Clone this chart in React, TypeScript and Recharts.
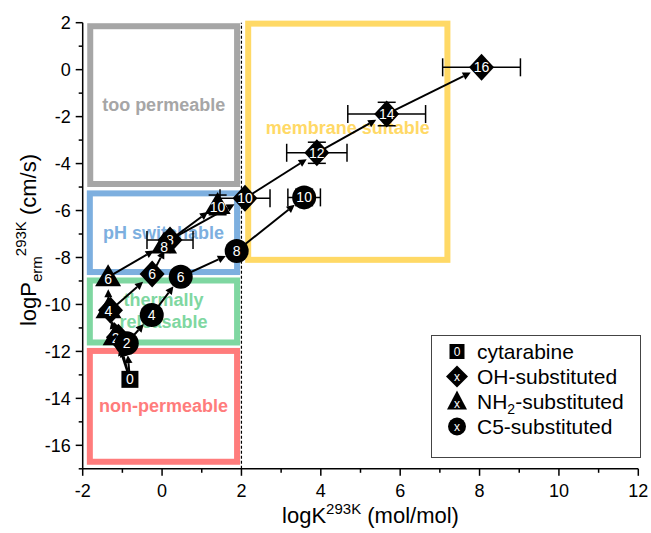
import React from 'react';
import {
  ScatterChart,
  Scatter,
  XAxis,
  YAxis,
  ErrorBar,
  ReferenceArea,
  ReferenceLine,
  Legend,
} from 'recharts';

const FONT = '"Liberation Sans", Arial, Helvetica, sans-serif';

// axis ticks (even values get a label, odd ones are minor ticks)
const xTicks = [-2, -1, 0, 1, 2, 3, 4, 5, 6, 7, 8, 9, 10, 11, 12];
const yTicks = [-17, -16, -15, -14, -13, -12, -11, -10, -9, -8, -7, -6, -5, -4, -3, -2, -1, 0, 1, 2];

// cytarabine (n = 0)
const cytN = [0];
const cytX = [-0.81];
const cytY = [-13.19];

// OH-substituted
const ohN = [2, 4, 6, 8, 10, 12, 14, 16];
const ohX = [-1.1, -1.3, -0.25, 0.2, 2.09, 3.9, 5.66, 8.05];
const ohY = [-11.4, -10.25, -8.7, -7.25, -5.48, -3.54, -1.89, 0.1];
const ohXErr = [0, 0, 0, 0.58, 0.63, 0.76, 0.98, 0.98];
const ohYErr = [0, 0, 0, 0, 0, 0.45, 0.5, 0];

// NH2-substituted
const nhN = [2, 4, 6, 8, 10];
const nhX = [-1.17, -1.35, -1.36, 0.05, 1.4];
const nhY = [-11.35, -10.2, -8.84, -7.45, -5.76];
const nhYErr = [0, 0, 0, 0, 0.42];

// C5-substituted
const c5N = [2, 4, 6, 8, 10];
const c5X = [-0.89, -0.26, 0.47, 1.88, 3.58];
const c5Y = [-11.65, -10.45, -8.82, -7.72, -5.44];
const c5XErr = [0, 0, 0, 0, 0.41];
const c5YErr = [0, 0, 0, 0, 0.35];

const seriesNames = ['cytarabine', 'OH-substituted', 'NH2-substituted', 'C5-substituted'];

// regions
const regionNames = ['too permeable', 'pH switchable', 'thermally\nreleasable', 'non-permeable', 'membrane suitable'];
const regionX1 = [-1.81, -1.82, -1.82, -1.82, 2.17];
const regionX2 = [1.89, 1.89, 1.89, 1.89, 7.19];
const regionY1 = [-4.87, -8.62, -11.62, -16.7, -8.1];
const regionY2 = [1.85, -5.27, -8.98, -11.98, 1.96];
const regionColors = ['#A6A6A6', '#7DAFDF', '#7FD7A1', '#FF7C7C', '#FFD966'];
const regionTextShift = [0, 0, 0, 0, -14];

// arrows between derivatives (from -> to)
const arrows: [string, string][] = [
  ['cyt0', 'c52'], ['c52', 'c54'], ['c54', 'c56'], ['c56', 'c58'], ['c58', 'c510'],
  ['cyt0', 'nh2'], ['nh2', 'nh4'], ['nh4', 'nh6'], ['nh6', 'nh8'], ['nh8', 'nh10'],
  ['cyt0', 'oh2'], ['oh2', 'oh4'], ['oh4', 'oh6'], ['oh6', 'oh8'], ['oh8', 'oh10'],
  ['oh10', 'oh12'], ['oh12', 'oh14'], ['oh14', 'oh16'],
];

const cytData = cytN.map((n, i) => ({ n, x: cytX[i], y: cytY[i] }));
const ohData = ohN.map((n, i) => ({ n, x: ohX[i], y: ohY[i], ex: ohXErr[i], ey: ohYErr[i] }));
const nhData = nhN.map((n, i) => ({ n, x: nhX[i], y: nhY[i], ey: nhYErr[i] }));
const c5Data = c5N.map((n, i) => ({ n, x: c5X[i], y: c5Y[i], ex: c5XErr[i], ey: c5YErr[i] }));

const pts: Record<string, { x: number; y: number }> = {};
cytData.forEach((d) => (pts['cyt' + d.n] = d));
ohData.forEach((d) => (pts['oh' + d.n] = d));
nhData.forEach((d) => (pts['nh' + d.n] = d));
c5Data.forEach((d) => (pts['c5' + d.n] = d));

const numText = (cx: number, cy: number, n: any, dy = 0) => (
  <text x={cx} y={cy + dy} textAnchor="middle" dominantBaseline="central" fill="#fff" fontSize={14} fontFamily={FONT}>
    {n}
  </text>
);

const SquareMark = ({ cx, cy, payload }: any) => (
  <g>
    <rect x={cx - 8.5} y={cy - 8.5} width={17} height={17} fill="#000" />
    {numText(cx, cy, payload.n)}
  </g>
);
const DiamondMark = ({ cx, cy, payload }: any) => (
  <g>
    <polygon points={`${cx},${cy - 13.5} ${cx + 12.5},${cy} ${cx},${cy + 13.5} ${cx - 12.5},${cy}`} fill="#000" />
    {numText(cx, cy, payload.n)}
  </g>
);
const TriangleMark = ({ cx, cy, payload }: any) => (
  <g>
    <polygon points={`${cx},${cy - 13} ${cx + 13},${cy + 9} ${cx - 13},${cy + 9}`} fill="#000" />
    {numText(cx, cy, payload.n, 2)}
  </g>
);
const CircleMark = ({ cx, cy, payload }: any) => (
  <g>
    <circle cx={cx} cy={cy} r={12} fill="#000" />
    {numText(cx, cy, payload.n)}
  </g>
);

const Arrow = ({ x1, y1, x2, y2 }: any) => {
  const dx = x2 - x1;
  const dy = y2 - y1;
  const len = Math.hypot(dx, dy);
  if (!len) return null;
  const ux = dx / len;
  const uy = dy / len;
  const tx = x2 - ux * 12;
  const ty = y2 - uy * 12;
  const bx = tx - ux * 8;
  const by = ty - uy * 8;
  return (
    <g>
      <line x1={x1} y1={y1} x2={bx} y2={by} stroke="#000" strokeWidth={2} />
      <polygon points={`${tx},${ty} ${bx - uy * 4},${by + ux * 4} ${bx + uy * 4},${by - ux * 4}`} fill="#000" />
    </g>
  );
};

const regionShape = (i: number) => ({ x, y, width, height }: any) => {
  const cx = x + width / 2;
  const cy = y + height / 2 + regionTextShift[i];
  const lines = regionNames[i].split('\n');
  return (
    <g>
      <rect x={x} y={y} width={width} height={height} fill="none" stroke={regionColors[i]} strokeWidth={6} />
      <text textAnchor="middle" fill={regionColors[i]} fontSize={18} fontWeight="bold" fontFamily={FONT}>
        {lines.map((l, k) => (
          <tspan key={k} x={cx} y={cy + 6 + (k - (lines.length - 1) / 2) * 22}>
            {l}
          </tspan>
        ))}
      </text>
    </g>
  );
};

const XTick = ({ x, y, payload }: any) => {
  const major = payload.value % 2 === 0;
  return (
    <g>
      <line x1={x} x2={x} y1={y} y2={y + (major ? 7 : 4)} stroke="#000" strokeWidth={1.5} />
      {major && (
        <text x={x} y={y + 28} textAnchor="middle" fontSize={18} fontFamily={FONT} fill="#000">
          {payload.value}
        </text>
      )}
    </g>
  );
};

const YTick = ({ x, y, payload }: any) => {
  const major = payload.value % 2 === 0;
  return (
    <g>
      <line x1={x} x2={x - (major ? 7 : 4)} y1={y} y2={y} stroke="#000" strokeWidth={1.5} />
      {major && (
        <text x={x - 12} y={y + 6.5} textAnchor="end" fontSize={18} fontFamily={FONT} fill="#000">
          {payload.value}
        </text>
      )}
    </g>
  );
};

const XTitle = ({ viewBox }: any) => {
  const cx = viewBox.x + viewBox.width / 2 + 10;
  return (
    <text x={cx} y={viewBox.y + 54} textAnchor="middle" fontSize={22} fontFamily={FONT} fill="#000">
      logK
      <tspan dy={-9} fontSize={15}>293K</tspan>
      <tspan dy={9}> (mol/mol)</tspan>
    </text>
  );
};

const YTitle = ({ viewBox }: any) => {
  const cx = 36;
  const cy = 240;
  return (
    <text x={cx} y={cy} transform={`rotate(-90, ${cx}, ${cy})`} textAnchor="middle" fontSize={22} fontFamily={FONT} fill="#000">
      logP
      <tspan dy={6} fontSize={15}>erm</tspan>
      <tspan dy={-16} fontSize={15}>293K</tspan>
      <tspan dy={10}> (cm/s)</tspan>
    </text>
  );
};

const legendIcon = (i: number) => {
  const cx = 25;
  const cy = 12.5;
  const label = i === 0 ? '0' : 'x';
  const mark =
    i === 0 ? (
      <rect x={cx - 7.5} y={cy - 7.5} width={15} height={15} fill="#000" />
    ) : i === 1 ? (
      <polygon points={`${cx},${cy - 11} ${cx + 11},${cy} ${cx},${cy + 11} ${cx - 11},${cy}`} fill="#000" />
    ) : i === 2 ? (
      <polygon points={`${cx},${cy - 11} ${cx + 10},${cy + 8} ${cx - 10},${cy + 8}`} fill="#000" />
    ) : (
      <circle cx={cx} cy={cy} r={9} fill="#000" />
    );
  return (
    <g>
      {mark}
      <text x={cx} y={cy + (i === 2 ? 2 : 0)} textAnchor="middle" dominantBaseline="central" fill="#fff" fontSize={12} fontFamily={FONT}>
        {label}
      </text>
    </g>
  );
};

const legendLabel = (name: string) => {
  if (name.startsWith('NH2')) {
    return (
      <span>
        NH<span style={{ fontSize: 14, verticalAlign: '-5px', lineHeight: 0 }}>2</span>
        {name.slice(3)}
      </span>
    );
  }
  return <span>{name}</span>;
};

const renderLegend = () => (
  <div
    style={{
      boxSizing: 'border-box',
      width: 210,
      height: 123,
      border: '1px solid #444',
      background: '#fff',
      fontFamily: FONT,
      fontSize: 21,
      color: '#000',
      paddingTop: 3,
    }}
  >
    {seriesNames.map((name, i) => (
      <div key={name} style={{ display: 'flex', alignItems: 'center', height: 25, whiteSpace: 'nowrap' }}>
        <svg width={45} height={25} style={{ flex: 'none' }}>
          {legendIcon(i)}
        </svg>
        {legendLabel(name)}
      </div>
    ))}
  </div>
);

export default function App() {
  return (
    <div style={{ position: 'absolute', left: 0, top: 0, width: 651, height: 533, background: '#fff' }}>
      <ScatterChart width={651} height={533} margin={{ top: 22.7, right: 12.7, bottom: 0, left: 0 }}>
        <XAxis
          type="number"
          dataKey="x"
          domain={[-2, 12]}
          ticks={xTicks}
          interval={0}
          height={64.2}
          tickSize={0}
          tickMargin={0}
          tickLine={false}
          tick={XTick}
          axisLine={{ stroke: '#000', strokeWidth: 1.5 }}
          allowDataOverflow
          label={XTitle}
        />
        <YAxis
          type="number"
          dataKey="y"
          domain={[-17, 2]}
          ticks={yTicks}
          interval={0}
          width={82.7}
          tickSize={0}
          tickMargin={0}
          tickLine={false}
          tick={YTick}
          axisLine={{ stroke: '#000', strokeWidth: 1.5 }}
          allowDataOverflow
          label={YTitle}
        />
        {regionNames.map((name, i) => (
          <ReferenceArea
            key={name}
            x1={regionX1[i]}
            x2={regionX2[i]}
            y1={regionY1[i]}
            y2={regionY2[i]}
            ifOverflow="extendDomain"
            shape={regionShape(i)}
          />
        ))}
        <ReferenceLine x={2} stroke="#000" strokeWidth={1.2} strokeDasharray="3 2" />
        {arrows.map(([a, b]) => (
          <ReferenceLine
            key={a + b}
            segment={[
              { x: pts[a].x, y: pts[a].y },
              { x: pts[b].x, y: pts[b].y },
            ]}
            ifOverflow="visible"
            shape={Arrow}
          />
        ))}
        <Scatter name="OH-substituted" data={ohData} isAnimationActive={false} shape={DiamondMark}>
          <ErrorBar dataKey="ex" direction="x" width={9} stroke="#000" strokeWidth={1.5} />
          <ErrorBar dataKey="ey" direction="y" width={9} stroke="#000" strokeWidth={1.5} />
        </Scatter>
        <Scatter name="NH2-substituted" data={nhData} isAnimationActive={false} shape={TriangleMark}>
          <ErrorBar dataKey="ey" direction="y" width={9} stroke="#000" strokeWidth={1.5} />
        </Scatter>
        <Scatter name="C5-substituted" data={c5Data} isAnimationActive={false} shape={CircleMark}>
          <ErrorBar dataKey="ex" direction="x" width={9} stroke="#000" strokeWidth={1.5} />
          <ErrorBar dataKey="ey" direction="y" width={9} stroke="#000" strokeWidth={1.5} />
        </Scatter>
        <Scatter name="cytarabine" data={cytData} isAnimationActive={false} shape={SquareMark} />
        <Legend
          layout="horizontal"
          verticalAlign="middle"
          align="center"
          content={renderLegend}
          wrapperStyle={{ left: 431, top: 335, width: 210, height: 123 }}
        />
      </ScatterChart>
    </div>
  );
}
